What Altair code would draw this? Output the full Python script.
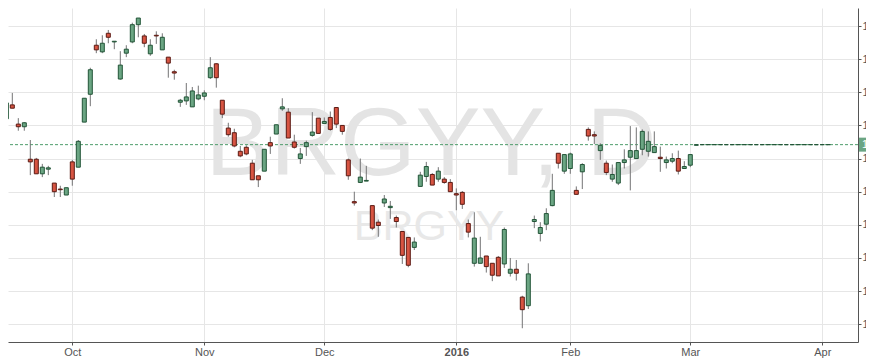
import altair as alt
import pandas as pd

# ---- data ----
opens = [15.38, 15.60, 15.81, 15.52, 15.48, 14.99, 14.99, 14.77, 14.84, 14.63,
         14.54, 14.45, 14.95, 14.87, 15.55, 15.97, 16.71, 16.61, 16.89, 16.76,
         16.20, 16.59, 16.76, 17.02, 16.85, 16.58, 16.86, 16.64, 16.53, 16.31,
         15.85, 15.87, 15.78, 15.90, 15.94, 16.22, 16.43, 15.88, 15.46, 15.39,
         15.11, 15.17, 14.93, 14.74, 14.81, 15.24, 15.37, 15.75, 15.70, 15.25,
         15.00, 15.18, 15.35, 15.61, 15.53, 15.62, 15.77, 15.50, 14.98, 14.35,
         14.64, 14.66, 14.29, 14.04, 14.33, 14.26, 14.11, 13.90, 13.81, 13.66,
         14.58, 14.73, 14.76, 14.69, 14.69, 14.64, 14.47, 14.49, 14.02, 13.42,
         13.42, 13.53, 13.42, 13.51, 13.41, 13.27, 13.33, 12.91, 12.78, 14.05,
         13.87, 14.01, 14.29, 15.08, 14.81, 14.85, 14.52, 14.80, 15.44, 15.36,
         15.12, 14.93, 14.69, 14.63, 14.94, 15.02, 15.00, 15.14, 15.11, 15.09,
         15.02, 14.94, 14.96, 15.00, 14.85, 14.90, 15.20, 15.21, 15.21, 15.21,
         15.21, 15.21, 15.21, 15.21, 15.21, 15.21, 15.21, 15.21, 15.21, 15.21,
         15.21, 15.21, 15.21, 15.21, 15.21, 15.21, 15.21, 15.21, 15.21]
highs = [15.60, 15.97, 15.99, 15.61, 15.55, 15.28, 15.01, 14.92, 14.89, 14.63,
         14.59, 14.56, 14.98, 15.28, 15.91, 16.37, 16.80, 16.86, 16.94, 16.77,
         16.62, 16.71, 17.05, 17.12, 16.88, 16.80, 16.92, 16.89, 16.53, 16.34,
         15.90, 16.14, 16.08, 16.10, 16.03, 16.53, 16.44, 15.88, 15.54, 15.45,
         15.19, 15.20, 14.98, 14.74, 15.14, 15.33, 15.51, 15.91, 15.76, 15.36,
         15.16, 15.27, 15.70, 15.61, 15.62, 15.71, 15.77, 15.50, 15.00, 14.50,
         15.00, 14.89, 14.29, 14.08, 14.45, 14.36, 14.14, 13.90, 13.81, 13.81,
         14.80, 14.95, 14.78, 14.87, 14.72, 14.69, 14.55, 14.51, 14.08, 14.19,
         13.82, 13.53, 13.42, 13.53, 13.96, 13.50, 13.47, 12.93, 13.42, 14.14,
         14.04, 14.25, 14.77, 15.08, 15.06, 15.09, 14.58, 14.93, 15.47, 15.41,
         15.23, 14.97, 14.91, 14.94, 15.14, 15.49, 15.47, 15.44, 15.41, 15.41,
         15.18, 15.03, 15.08, 15.12, 14.96, 15.06, 15.21, 15.21, 15.21, 15.21,
         15.21, 15.21, 15.21, 15.21, 15.21, 15.21, 15.21, 15.21, 15.21, 15.21,
         15.21, 15.21, 15.21, 15.21, 15.21, 15.21, 15.21, 15.21, 15.21]
lows = [15.33, 15.60, 15.76, 15.42, 15.42, 14.75, 14.77, 14.72, 14.75, 14.42,
        14.42, 14.45, 14.59, 14.87, 15.55, 15.79, 16.59, 16.59, 16.74, 16.65,
        16.19, 16.53, 16.74, 16.83, 16.68, 16.55, 16.73, 16.64, 16.22, 16.19,
        15.78, 15.81, 15.78, 15.88, 15.88, 16.20, 16.07, 15.61, 15.33, 15.17,
        15.02, 15.05, 14.68, 14.57, 14.81, 15.07, 15.37, 15.72, 15.31, 15.15,
        14.92, 15.04, 15.33, 15.38, 15.53, 15.42, 15.46, 15.36, 14.68, 14.29,
        14.63, 14.66, 13.92, 13.82, 14.27, 14.09, 13.96, 13.41, 13.36, 13.62,
        14.58, 14.65, 14.60, 14.65, 14.62, 14.50, 14.22, 14.24, 13.81, 13.37,
        13.42, 13.28, 13.15, 13.23, 13.35, 13.22, 13.16, 12.44, 12.73, 13.95,
        13.75, 13.92, 14.28, 14.85, 14.77, 14.77, 14.46, 14.54, 15.27, 15.22,
        14.98, 14.75, 14.65, 14.60, 14.85, 14.52, 15.00, 15.05, 15.03, 15.09,
        14.80, 14.85, 14.93, 14.76, 14.85, 14.87, 15.20, 15.21, 15.21, 15.21,
        15.21, 15.21, 15.21, 15.21, 15.21, 15.21, 15.21, 15.21, 15.21, 15.21,
        15.21, 15.21, 15.21, 15.21, 15.21, 15.21, 15.21, 15.21, 15.21]
closes = [15.44, 15.84, 15.76, 15.48, 15.54, 14.95, 14.77, 14.87, 14.86, 14.50,
          14.53, 14.56, 14.69, 15.26, 15.91, 16.34, 16.64, 16.74, 16.83, 16.77,
          16.41, 16.65, 17.02, 17.12, 16.74, 16.71, 16.85, 16.83, 16.44, 16.29,
          15.88, 15.93, 16.02, 15.96, 15.99, 16.37, 16.22, 15.67, 15.36, 15.19,
          15.04, 15.07, 14.68, 14.68, 15.14, 15.19, 15.51, 15.78, 15.31, 15.17,
          15.07, 15.24, 15.40, 15.38, 15.56, 15.44, 15.52, 15.41, 14.74, 14.33,
          14.72, 14.67, 13.95, 13.99, 14.39, 14.28, 14.05, 13.54, 13.39, 13.74,
          14.75, 14.88, 14.60, 14.81, 14.64, 14.50, 14.45, 14.31, 13.89, 13.80,
          13.50, 13.37, 13.24, 13.23, 13.93, 13.33, 13.27, 12.72, 13.26, 14.08,
          13.96, 14.17, 14.52, 14.93, 15.06, 15.07, 14.46, 14.91, 15.34, 15.34,
          15.20, 14.79, 14.76, 14.94, 14.98, 15.12, 15.12, 15.41, 15.26, 15.18,
          15.00, 14.98, 15.00, 14.81, 14.88, 15.06, 15.21, 15.21, 15.21, 15.21,
          15.21, 15.21, 15.21, 15.21, 15.21, 15.21, 15.21, 15.21, 15.21, 15.21,
          15.21, 15.21, 15.21, 15.21, 15.21, 15.21, 15.21, 15.21, 15.21]

# trading-day index of the first session of each month, and its label
month_pos = [13, 35, 55, 77, 96, 116, 138]
month_labels = ["Oct", "Nov", "Dec", "2016", "Feb", "Mar", "Apr"]
y_ticks = [12.5, 13.0, 13.5, 14.0, 14.5, 15.0, 15.5, 16.0, 16.5, 17.0]
last_price = 15.21
symbol = "BRGYY"
interval = "D"

# ---- styling ----
UP_FILL, UP_LINE = "#6ba583", "#225437"
DN_FILL, DN_LINE = "#d75442", "#5b1a13"
WICK = "#737375"
GRID = "#e6e6e6"
AXIS = "#555555"
FONT = "Liberation Sans"

W, H = 850, 334          # plot area
PAD_R, PAD_B = 8, 16

df = pd.DataFrame({
    "i": list(range(1, len(opens) + 1)),
    "open": opens, "high": highs, "low": lows, "close": closes,
})
df["dir"] = ["up" if c >= o else "down" for o, c in zip(opens, closes)]

xs = alt.Scale(domain=[2.2833, 143.95], nice=False, zero=False, padding=0)
ys = alt.Scale(domain=[12.2324, 17.2716], nice=False, zero=False, padding=0)

label_expr = " : ".join(
    f"datum.value == {p} ? '{l}'" for p, l in zip(month_pos, month_labels)
) + " : ''"
bold_pos = [p for p, l in zip(month_pos, month_labels) if l.isdigit()]
weight_expr = " || ".join(f"datum.value == {p}" for p in bold_pos) + " ? 'bold' : 'normal'"

x_axis = alt.Axis(values=month_pos, labelExpr=label_expr, title=None,
                  grid=True, gridColor=GRID, domainColor=AXIS, tickColor=AXIS,
                  tickSize=3, labelPadding=1, labelColor=AXIS, labelFont=FONT,
                  labelFontSize=11, labelFontWeight=alt.ExprRef(weight_expr),
                  labelFlush=False, labelOverlap=False)
y_axis = alt.Axis(values=y_ticks, format=".1f", orient="right", title=None,
                  grid=True, gridColor=GRID, domainColor=AXIS, tickColor=AXIS,
                  tickSize=3, labelPadding=1, labelColor=AXIS, labelFont=FONT,
                  labelFontSize=11, labelAlign="left", labelFlush=False,
                  labelOverlap=False)

one = pd.DataFrame({"k": [0]})

wm_big = alt.Chart(one).mark_text(
    text=f"{symbol}, {interval}", font=FONT, fontSize=97, color="#e4e4e4",
    align="center", baseline="alphabetic"
).encode(x=alt.value(423), y=alt.value(167))

wm_small = alt.Chart(one).mark_text(
    text=symbol, font=FONT, fontSize=43, color="#e8e8e8",
    align="center", baseline="alphabetic"
).encode(x=alt.value(421), y=alt.value(232))

price_line = alt.Chart(one).mark_rule(
    color="#4f9d6c", strokeDash=[3, 2], strokeWidth=1
).encode(y=alt.Y(datum=last_price, scale=ys, axis=y_axis))

wicks = alt.Chart(df).mark_rule(color=WICK, strokeWidth=1, clip=True).encode(
    x=alt.X("i:Q", scale=xs, axis=x_axis),
    y=alt.Y("low:Q", scale=ys, axis=y_axis),
    y2="high:Q",
)

bodies = alt.Chart(df).mark_bar(size=4, strokeWidth=1, clip=True).encode(
    x=alt.X("i:Q", scale=xs, axis=x_axis),
    y=alt.Y("open:Q", scale=ys, axis=y_axis),
    y2="close:Q",
    fill=alt.Fill("dir:N", scale=alt.Scale(domain=["up", "down"], range=[UP_FILL, DN_FILL]), legend=None),
    stroke=alt.Stroke("dir:N", scale=alt.Scale(domain=["up", "down"], range=[UP_LINE, DN_LINE]), legend=None),
)

price_box = alt.Chart(one).mark_rect(
    color="#6ba583", yOffset=-7, y2Offset=7, clip=False
).encode(
    x=alt.value(W + 1), x2=alt.value(W + PAD_R),
    y=alt.Y(datum=last_price, scale=ys, axis=y_axis), y2=alt.Y2(datum=last_price),
)

price_text = alt.Chart(one).mark_text(
    color="white", align="left", baseline="middle", font=FONT, fontSize=11, clip=False
).encode(
    x=alt.value(W + 4),
    y=alt.Y(datum=last_price, scale=ys, axis=y_axis),
    text=alt.value(f"{last_price:.2f}"),
)

chart = alt.layer(
    wm_big, wm_small, price_line, wicks, bodies, price_box, price_text
).properties(
    width=W, height=H,
    autosize=alt.AutoSizeParams(type="none"),
    padding={"left": 0, "top": 0, "right": PAD_R, "bottom": PAD_B},
    background="white",
).configure_view(stroke=None)

chart.save("out.html", embed_options={"renderer": "svg", "actions": False})
